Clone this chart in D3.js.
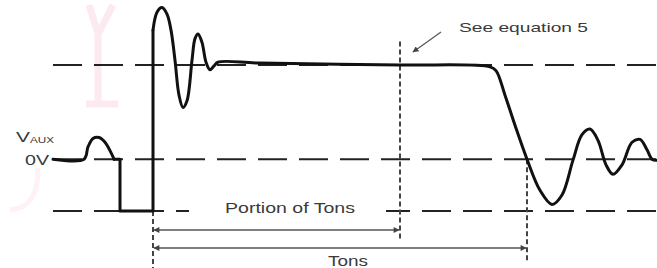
<!DOCTYPE html>
<html>
<head>
<meta charset="utf-8">
<script src="https://cdn.jsdelivr.net/npm/d3@7"></script>
<style>
    html, body { margin: 0; padding: 0; background: #fff; }
    svg { display: block; }
    text { font-family: "Liberation Sans", Arial, sans-serif; fill: #3a3a3a; }
</style>
</head>
<body>
<div id="chart"></div>
<script>
// waveform samples (time in arbitrary units, voltage relative to the flat top level)
const waveT = [0, 3.1, 3.5, 4.0, 4.6, 5.2, 5.8, 6.1, 6.7, 6.7, 10.0, 10.0, 10.4, 10.9, 11.4, 11.8, 12.2,
    12.6, 13.0, 13.4, 13.9, 14.2, 14.5, 14.9, 15.3, 15.7, 16.1, 16.5, 20.7, 34.7, 43.7, 44.3, 45.2,
    46.2, 47.4, 48.7, 49.9, 50.9, 52.0, 52.9, 53.7, 54.5, 55.3, 56.0, 56.9, 57.9, 58.7, 59.4, 59.9, 60.4];
const waveV = [0, 0, 0.13, 0.22, 0.23, 0.18, 0.07, 0, 0, -0.55, -0.55, 1.37, 1.56, 1.61, 1.54, 1.37, 1.05,
    0.68, 0.55, 0.62, 1.05, 1.28, 1.33, 1.24, 1.03, 0.95, 0.99, 1.03, 1.02, 1.0, 0.98, 0.94, 0.68,
    0.36, 0, -0.33, -0.48, -0.38, -0.01, 0.26, 0.32, 0.2, -0.06, -0.16, -0.06, 0.18, 0.21, 0.1, 0, -0.01];

// index ranges: smooth bump, hard switching edges, smooth ringing
const smoothParts = [[0, 7], [11, 49]];
const sharpParts = [[7, 11]];

// dashed reference levels
const levels = [1, 0, -0.55];

// time markers: start of Tons, end of portion, end of Tons
const markerT = [10.0, 34.7, 47.4];

// dimension arrows
const dimLabels = ["Portion of Tons", "Tons"];
const dimStart = [10.0, 10.0];
const dimEnd = [34.7, 47.4];

const width = 657;
const height = 268;

const x = d3.scaleLinear().domain([0, 60.4]).range([53, 657]);
const y = d3.scaleLinear().domain([-0.55, 1]).range([211, 65]);

const svg = d3.select("#chart")
    .append("svg")
    .attr("width", width)
    .attr("height", height);

// arrowheads
const defs = svg.append("defs");
defs.append("marker")
    .attr("id", "head")
    .attr("viewBox", "0 0 10 10")
    .attr("refX", 9)
    .attr("refY", 5)
    .attr("markerWidth", 7)
    .attr("markerHeight", 6)
    .attr("markerUnits", "userSpaceOnUse")
    .attr("orient", "auto-start-reverse")
    .append("path")
    .attr("d", "M0,0L10,5L0,10z")
    .attr("fill", "#444");

// faint pink watermark left over from the scan
const wm = svg.append("g")
    .attr("fill", "none")
    .attr("stroke", "#fdeaf0")
    .attr("stroke-width", 7);
wm.append("path").attr("d", "M89,5L98,34L113,5M98,34L98,102M86,104L118,104");
wm.append("path").attr("d", "M38,168C38,195 30,208 10,210").attr("stroke-width", 5).attr("opacity", 0.6);

// dashed horizontal levels
svg.selectAll(".level")
    .data(levels)
    .enter()
    .append("line")
    .attr("class", "level")
    .attr("x1", x(0))
    .attr("x2", width)
    .attr("y1", d => y(d))
    .attr("y2", d => y(d))
    .attr("stroke", "#222")
    .attr("stroke-width", 2)
    .attr("stroke-dasharray", "29,12");

// vertical dotted markers
const markerTop = [y(-0.55), y(1.25), y(0)];
const markerBottom = [height, 241, 262];
svg.selectAll(".marker")
    .data(markerT)
    .enter()
    .append("line")
    .attr("class", "marker")
    .attr("x1", d => x(d))
    .attr("x2", d => x(d))
    .attr("y1", (d, i) => markerTop[i])
    .attr("y2", (d, i) => markerBottom[i])
    .attr("stroke", "#444")
    .attr("stroke-width", 2)
    .attr("stroke-dasharray", "5,3");

// dimension lines
const dimY = [230, 248];
dimLabels.forEach((label, i) => {
    svg.append("line")
        .attr("x1", x(dimStart[i]) + 1)
        .attr("x2", x(dimEnd[i]) - 1)
        .attr("y1", dimY[i])
        .attr("y2", dimY[i])
        .attr("stroke", "#555")
        .attr("stroke-width", 1.5)
        .attr("marker-start", "url(#head)")
        .attr("marker-end", "url(#head)");
});

// label for the portion sits on the bottom level, the dashes are cut there
svg.append("rect")
    .attr("x", 189)
    .attr("y", 205)
    .attr("width", 197)
    .attr("height", 12)
    .attr("fill", "#fff");

svg.append("text")
    .attr("x", 225)
    .attr("y", 213)
    .attr("font-size", 14)
    .attr("textLength", 130)
    .attr("lengthAdjust", "spacingAndGlyphs")
    .text(dimLabels[0]);

svg.append("text")
    .attr("x", 328)
    .attr("y", 266)
    .attr("font-size", 14)
    .attr("textLength", 40)
    .attr("lengthAdjust", "spacingAndGlyphs")
    .text(dimLabels[1]);

// the waveform itself
const smooth = d3.line()
    .x(i => x(waveT[i]))
    .y(i => y(waveV[i]))
    .curve(d3.curveCatmullRom.alpha(0.5));

const sharp = d3.line()
    .x(i => x(waveT[i]))
    .y(i => y(waveV[i]));

const wave = svg.append("g")
    .attr("fill", "none")
    .attr("stroke", "#111")
    .attr("stroke-width", 3)
    .attr("stroke-linejoin", "round")
    .attr("stroke-linecap", "round");

smoothParts.forEach(p => {
    wave.append("path").attr("d", smooth(d3.range(p[0], p[1] + 1)));
});
sharpParts.forEach(p => {
    wave.append("path").attr("d", sharp(d3.range(p[0], p[1] + 1)));
});

// annotation
svg.append("text")
    .attr("x", 459)
    .attr("y", 32)
    .attr("font-size", 13)
    .attr("textLength", 129)
    .attr("lengthAdjust", "spacingAndGlyphs")
    .text("See equation 5");

svg.append("line")
    .attr("x1", 441)
    .attr("y1", 32)
    .attr("x2", 413)
    .attr("y2", 52)
    .attr("stroke", "#555")
    .attr("stroke-width", 1.2)
    .attr("marker-end", "url(#head)");

// axis labels
svg.append("text")
    .attr("x", 16)
    .attr("y", 142)
    .attr("font-size", 15)
    .attr("textLength", 14)
    .attr("lengthAdjust", "spacingAndGlyphs")
    .text("V");

svg.append("text")
    .attr("x", 30)
    .attr("y", 143)
    .attr("font-size", 8.5)
    .attr("textLength", 24)
    .attr("lengthAdjust", "spacingAndGlyphs")
    .text("AUX");

svg.append("text")
    .attr("x", 25)
    .attr("y", 165)
    .attr("font-size", 14)
    .attr("textLength", 24)
    .attr("lengthAdjust", "spacingAndGlyphs")
    .text("0V");
</script>
</body>
</html>
